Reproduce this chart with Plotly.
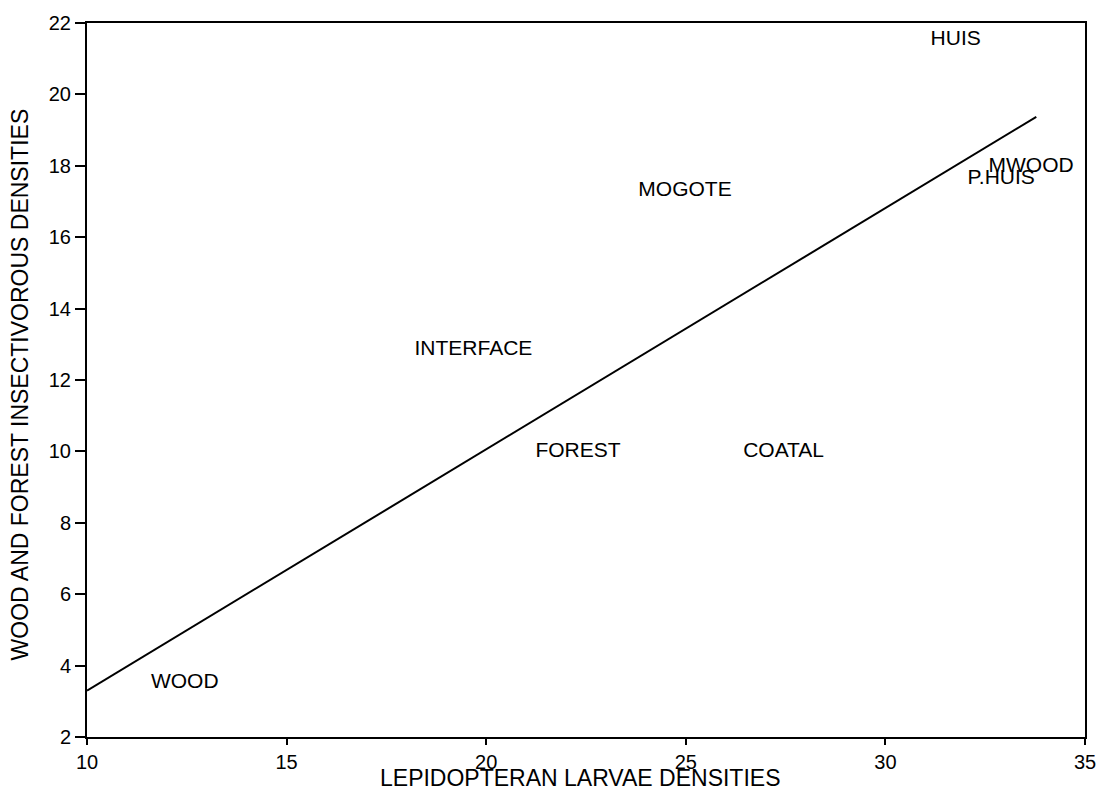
import plotly.graph_objects as go

# Habitat positions: lepidopteran larvae density vs. insectivorous bird density
sites = ["HUIS", "MWOOD", "P.HUIS", "MOGOTE", "INTERFACE", "FOREST", "COATAL", "WOOD"]
larvae = [31.76, 33.65, 32.9, 24.98, 19.68, 22.3, 27.45, 12.45]
insectivores = [21.53, 17.98, 17.65, 17.29, 12.86, 10.0, 10.0, 3.52]

# Fitted regression line end points
fit_x = [10.0, 33.78]
fit_y = [3.3, 19.37]

x_ticks = [10, 15, 20, 25, 30, 35]
y_ticks = [2, 4, 6, 8, 10, 12, 14, 16, 18, 20, 22]

FONT = "Liberation Sans, Arial, Helvetica, sans-serif"

fig = go.Figure()
fig.add_trace(go.Scatter(
    x=fit_x, y=fit_y, mode="lines",
    line=dict(color="black", width=2),
    hoverinfo="skip", showlegend=False,
))
fig.add_trace(go.Scatter(
    x=larvae, y=insectivores, mode="text", text=sites,
    textposition="middle center",
    textfont=dict(family=FONT, size=21, color="black"),
    showlegend=False,
))

axis_common = dict(
    showgrid=False, zeroline=False,
    showline=True, linecolor="black", linewidth=2, mirror=True,
    ticks="outside", tickcolor="black", tickwidth=2,
    tickfont=dict(family=FONT, size=20, color="black"),
)

fig.update_xaxes(range=[10, 35], tickvals=x_ticks, ticklen=6, **axis_common)
fig.update_yaxes(range=[2, 22], tickvals=y_ticks, ticklen=10, **axis_common)

fig.add_annotation(
    text="LEPIDOPTERAN LARVAE DENSITIES", xref="paper", yref="paper",
    x=0.4945, y=-0.036, xanchor="center", yanchor="top", showarrow=False,
    font=dict(family=FONT, size=23, color="black"),
)
fig.add_annotation(
    text="WOOD AND FOREST INSECTIVOROUS DENSITIES", xref="paper", yref="paper",
    x=-0.067, y=0.494, xanchor="center", yanchor="middle", textangle=-90,
    showarrow=False, font=dict(family=FONT, size=23, color="black"),
)

fig.update_layout(
    width=1108, height=803,
    margin=dict(l=87, r=21, t=15, b=66),
    paper_bgcolor="white", plot_bgcolor="white",
)

fig.write_html("out.html")
